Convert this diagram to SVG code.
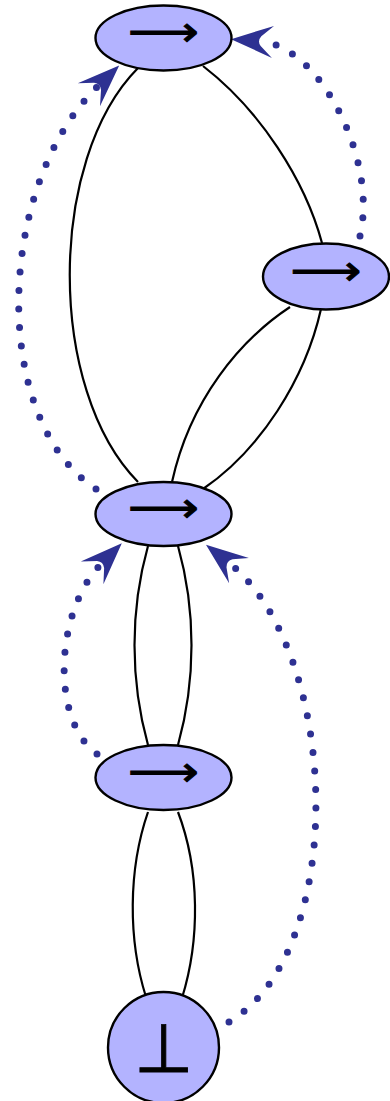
<svg xmlns="http://www.w3.org/2000/svg" width="390" height="1101" viewBox="0 0 390 1101">
<style>
.node{fill:#b3b3ff;stroke:#000;stroke-width:2.4}
.edge{fill:none;stroke:#000;stroke-width:2.2}
.dot{fill:none;stroke:#2e3192;stroke-width:7;stroke-linecap:round;stroke-dasharray:0 18.5}
.lbl{font-family:"DejaVu Sans",sans-serif;fill:#000;stroke:#000;stroke-width:0.9;text-anchor:middle}
</style>
<defs>
<marker id="ah" markerUnits="userSpaceOnUse" orient="auto" markerWidth="70" markerHeight="70" viewBox="-25 -35 70 70" refX="0" refY="0" overflow="visible">
<path d="M28,0 L-14,-16 L-2,-5 Q2,0 -2,5 L-14,16 Z" fill="#2e3192"/>
</marker>
</defs>
<rect width="390" height="1101" fill="#fff"/>
<g id="edges">
<path class="edge" d="M138,68 C47,160 47,390 138,482"/>
<path class="edge" d="M203,66 C260,110 305,180 322,243"/>
<path class="edge" d="M290,307 C240,340 190,400 172,482"/>
<path class="edge" d="M321,309 C305,380 260,450 203,489"/>
<path class="edge" d="M148,546 C130,610 130,680 148,745"/>
<path class="edge" d="M178,546 C196,610 196,680 178,745"/>
<path class="edge" d="M148,812 C128,870 128,940 146,997"/>
<path class="edge" d="M178,812 C200,870 200,940 182,998"/>
<path class="dot" d="M360,236 C378,160 320,45 259,41" marker-end="url(#ah)"/>
<path class="dot" d="M96,489 C-10,420 -5,185 99,85" marker-end="url(#ah)"/>
<path class="dot" d="M97,754 C50,720 55,610 102,563" marker-end="url(#ah)"/>
<path class="dot" d="M229,1022 C350,950 340,650 228,562" marker-end="url(#ah)"/>
</g>
<g id="n1"><ellipse class="node" cx="163.5" cy="38" rx="68" ry="32.5"/><text class="lbl" x="163.5" y="46" font-size="42" textLength="71" lengthAdjust="spacingAndGlyphs">⟶</text></g>
<g id="n2"><ellipse class="node" cx="326" cy="276.5" rx="63" ry="33"/><text class="lbl" x="326" y="284.5" font-size="42" textLength="71" lengthAdjust="spacingAndGlyphs">⟶</text></g>
<g id="n3"><ellipse class="node" cx="163.5" cy="514" rx="68" ry="32"/><text class="lbl" x="163.5" y="522" font-size="42" textLength="71" lengthAdjust="spacingAndGlyphs">⟶</text></g>
<g id="n4"><ellipse class="node" cx="163.5" cy="777.5" rx="68" ry="32.5"/><text class="lbl" x="163.5" y="785.5" font-size="42" textLength="71" lengthAdjust="spacingAndGlyphs">⟶</text></g>
<g id="n5"><circle class="node" cx="163.5" cy="1047.5" r="55.5"/><text class="lbl" x="163.5" y="1072" font-size="68">⊥</text></g>
</svg>
